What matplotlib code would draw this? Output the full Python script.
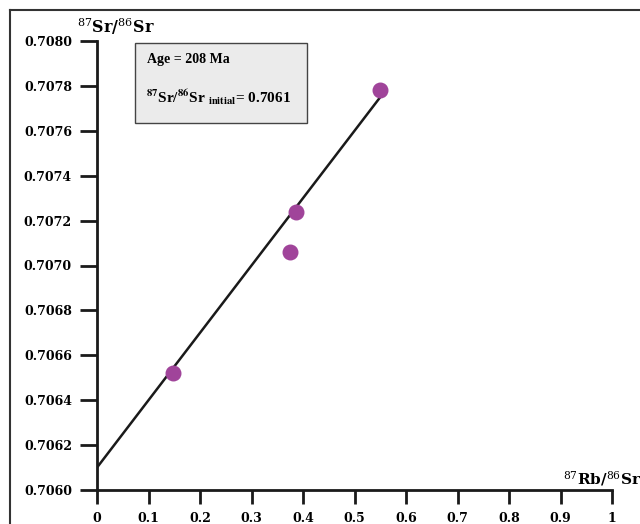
import matplotlib.pyplot as plt
from matplotlib.lines import Line2D
from matplotlib.patches import Rectangle

# sample data
rb_sr = [0.148, 0.375, 0.386, 0.549]
sr_sr = [0.70652, 0.70706, 0.70724, 0.70778]

# isochron line (intercept = initial ratio)
line_x = [0.0, 0.55]
line_y = [0.7061, 0.70775]

x_ticks = [0, 0.1, 0.2, 0.3, 0.4, 0.5, 0.6, 0.7, 0.8, 0.9, 1]
x_labels = ["0", "0.1", "0.2", "0.3", "0.4", "0.5", "0.6", "0.7", "0.8", "0.9", "1"]
y_ticks = [0.7060, 0.7062, 0.7064, 0.7066, 0.7068, 0.7070,
           0.7072, 0.7074, 0.7076, 0.7078, 0.7080]
y_labels = ["%.4f" % v for v in y_ticks]

W, H = 640, 524
fig = plt.figure(figsize=(W / 100, H / 100), dpi=100)
ax = fig.add_axes([97 / W, 1 - 490 / H, (612 - 97) / W, (490 - 41) / H])

ax.plot(line_x, line_y, color="#1a1a1a", lw=1.8, zorder=2)
ax.scatter(rb_sr, sr_sr, s=110, color="#A0449A", zorder=3, clip_on=False)

ax.set_xlim(0, 1)
ax.set_ylim(0.7060, 0.7080)
ax.set_xticks(x_ticks)
ax.set_xticklabels(x_labels)
ax.set_yticks(y_ticks)
ax.set_yticklabels(y_labels)

for s in ["top", "right"]:
    ax.spines[s].set_visible(False)
for s in ["left", "bottom"]:
    ax.spines[s].set_linewidth(2)
    ax.spines[s].set_color("#1a1a1a")

ax.tick_params(axis="both", width=2, color="#1a1a1a", direction="out")
ax.tick_params(axis="y", length=12, pad=6)
ax.tick_params(axis="x", length=10, pad=6)
for lab in ax.get_xticklabels() + ax.get_yticklabels():
    lab.set_fontfamily("DejaVu Serif")
    lab.set_fontweight("bold")
    lab.set_fontsize(9)

# axis titles
fig.text(77 / W, 1 - 33 / H, r"$^{87}$Sr/$^{86}$Sr", fontsize=11.5, fontweight="bold",
         family="DejaVu Serif", math_fontfamily="dejavuserif", va="baseline")
fig.text(563 / W, 1 - 484 / H, r"$^{87}$Rb/$^{86}$Sr", fontsize=11, fontweight="bold",
         family="DejaVu Serif", math_fontfamily="dejavuserif", va="baseline")

# info box
fig.add_artist(Rectangle((135 / W, 1 - 123 / H), 172 / W, 80 / H,
                         transform=fig.transFigure, facecolor="#EBEBEB",
                         edgecolor="#444444", lw=1))
fig.text(147 / W, 1 - 60 / H, "Age = 208 Ma", fontsize=10, fontweight="bold",
         family="Liberation Serif", va="center")
fig.text(146 / W, 1 - 97 / H, r"$^{\mathbf{87}}$Sr/$^{\mathbf{86}}$Sr $_{\mathbf{initial}}$= 0.7061",
         fontsize=11, fontweight="bold", family="Liberation Serif",
         math_fontfamily="stix", va="center")

# outer frame (left and top edges)
fig.add_artist(Line2D([10 / W, 10 / W], [0, 1 - 10 / H], transform=fig.transFigure,
                      color="#333333", lw=1.5))
fig.add_artist(Line2D([10 / W, 1], [1 - 10 / H, 1 - 10 / H], transform=fig.transFigure,
                      color="#333333", lw=1.5))

fig.savefig("out.png", dpi=100)
